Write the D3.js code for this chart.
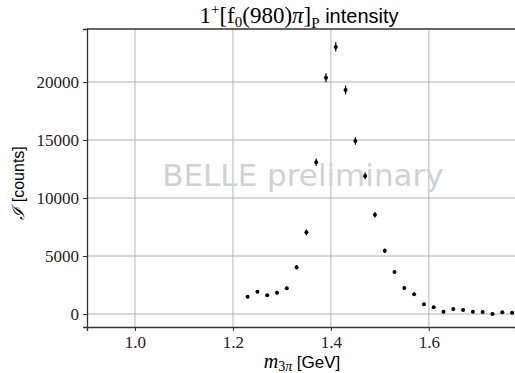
<!DOCTYPE html>
<html>
<head>
<meta charset="utf-8">
<script src="https://cdn.jsdelivr.net/npm/d3@7"></script>
<style>
  body { margin: 0; background: #fff; }
</style>
</head>
<body>
<div id="chart"></div>
<script>
const masses = [1.23, 1.25, 1.27, 1.29, 1.31, 1.33, 1.35, 1.37, 1.39, 1.41, 1.43, 1.45, 1.47, 1.49,
  1.51, 1.53, 1.55, 1.57, 1.59, 1.61, 1.63, 1.65, 1.67, 1.69, 1.71, 1.73, 1.75, 1.77]
const intensity = [1490, 1920, 1610, 1840, 2210, 4030, 7040, 13080, 20370, 23020, 19310, 14910, 11900, 8550,
  5460, 3620, 2240, 1700, 840, 580, 200, 430, 340, 200, 170, 0, 150, 110]
const errors = [120, 130, 120, 130, 140, 180, 240, 320, 380, 400, 370, 320, 290, 240,
  190, 150, 120, 100, 80, 70, 60, 60, 60, 50, 50, 50, 50, 50]
const xTicks = [1.0, 1.2, 1.4, 1.6]
const yTicks = [0, 5000, 10000, 15000, 20000]

const width = 515, height = 373
const margin = { top: 29, right: 0, bottom: 46, left: 87 }
const serif = 'Liberation Serif'
const sans = 'Liberation Sans'

const x = d3.scaleLinear()
  .domain([0.902, 1.776])
  .range([margin.left, width - margin.right])

const y = d3.scaleLinear()
  .domain([-1120, 24570])
  .range([height - margin.bottom, margin.top])

const svg = d3.select('#chart').append('svg')
  .attr('width', width)
  .attr('height', height)

// grid
svg.append('g')
  .selectAll('line')
  .data(xTicks)
  .join('line')
  .attr('x1', d => x(d)).attr('x2', d => x(d))
  .attr('y1', margin.top).attr('y2', height - margin.bottom)
  .attr('stroke', '#d0d0d0').attr('stroke-width', 1.5)

svg.append('g')
  .selectAll('line')
  .data(yTicks)
  .join('line')
  .attr('x1', margin.left).attr('x2', width)
  .attr('y1', d => y(d)).attr('y2', d => y(d))
  .attr('stroke', '#b0b0b0').attr('stroke-width', 1)

// watermark
svg.append('text')
  .attr('x', x(1.343)).attr('y', y(11800))
  .attr('text-anchor', 'middle')
  .attr('dominant-baseline', 'middle')
  .attr('font-family', 'DejaVu Sans')
  .attr('font-size', 31)
  .attr('fill', '#d2d2d2')
  .text('BELLE preliminary')

// axes
const xAxis = g => g
  .attr('transform', `translate(0,${height - margin.bottom})`)
  .call(d3.axisBottom(x).tickValues(xTicks).tickFormat(d3.format('.1f')).tickSize(4).tickPadding(5))

const yAxis = g => g
  .attr('transform', `translate(${margin.left},0)`)
  .call(d3.axisLeft(y).tickValues(yTicks).tickFormat(d => d).tickSize(4).tickPadding(4))

svg.append('g').call(xAxis).attr('font-family', serif).attr('font-size', 17)
svg.append('g').call(yAxis).attr('font-family', serif).attr('font-size', 17)
svg.selectAll('.domain').attr('stroke', '#333').attr('stroke-width', 1.3)
svg.selectAll('.tick line').attr('stroke', '#333')
svg.selectAll('.tick text').attr('fill', '#222')

svg.append('line')
  .attr('x1', margin.left).attr('x2', width)
  .attr('y1', margin.top).attr('y2', margin.top)
  .attr('stroke', '#333').attr('stroke-width', 1.3)

// error bars and points
const pts = masses.map((m, i) => ({ m, v: intensity[i], e: errors[i] }))

svg.append('g')
  .selectAll('line')
  .data(pts)
  .join('line')
  .attr('x1', d => x(d.m)).attr('x2', d => x(d.m))
  .attr('y1', d => y(d.v - d.e)).attr('y2', d => y(d.v + d.e))
  .attr('stroke', '#000').attr('stroke-width', 1.2)

svg.append('g')
  .selectAll('circle')
  .data(pts)
  .join('circle')
  .attr('cx', d => x(d.m))
  .attr('cy', d => y(d.v))
  .attr('r', 2)
  .attr('fill', '#000')

// title
const title = svg.append('text')
  .attr('x', 299).attr('y', 23)
  .attr('text-anchor', 'middle')
  .attr('font-family', serif)
  .attr('font-size', 23)
  .attr('fill', '#000')
title.append('tspan').text('1')
title.append('tspan').attr('font-size', 15).attr('dy', -9).text('+')
title.append('tspan').attr('dy', 9).text('[f')
title.append('tspan').attr('font-size', 15).attr('dy', 4).text('0')
title.append('tspan').attr('dy', -4).text('(980)')
title.append('tspan').attr('font-style', 'italic').text('π')
title.append('tspan').text(']')
title.append('tspan').attr('font-size', 15).attr('dy', 5).text('P')
title.append('tspan').attr('font-family', sans).attr('font-size', 20).attr('dy', -5).text(' intensity')

// x label
const xl = svg.append('text')
  .attr('x', 302).attr('y', 368)
  .attr('text-anchor', 'middle')
  .attr('font-family', serif)
  .attr('font-size', 20)
xl.append('tspan').attr('font-style', 'italic').text('m')
xl.append('tspan').attr('font-size', 14).attr('dy', 3).text('3')
xl.append('tspan').attr('font-style', 'italic').attr('font-size', 14).text('π')
xl.append('tspan').attr('font-family', sans).attr('font-size', 17).attr('dy', -3).text(' [GeV]')

// y label
const yl = svg.append('text')
  .attr('transform', `translate(24,${y(11300)}) rotate(-90)`)
  .attr('text-anchor', 'middle')
  .attr('font-size', 17)
yl.append('tspan').attr('font-family', 'DejaVu Serif').attr('font-style', 'italic').text('ℐ')
yl.append('tspan').attr('font-family', sans).attr('font-size', 16).text(' [counts]')
</script>
</body>
</html>
